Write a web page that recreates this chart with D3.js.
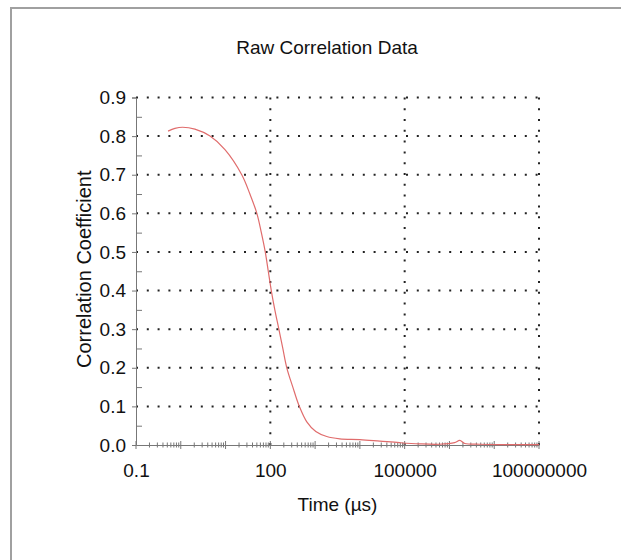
<!DOCTYPE html>
<html>
<head>
<meta charset="utf-8">
<script src="https://cdnjs.cloudflare.com/ajax/libs/d3/7.8.5/d3.min.js"></script>
<style>
  body { margin: 0; background: #fff; }
  text { font-family: Arial, "Liberation Sans", sans-serif; fill: #111; }
</style>
</head>
<body>
<script>
// correlation curve
const times = [0.52, 0.74, 1.1, 2.07, 4.5, 9.7, 23, 35, 50, 63, 77, 90, 105, 126, 155, 190, 233, 318, 444, 652,
  1035, 1820, 3550, 10000, 28000, 77000, 210000, 600000, 1300000, 1700000, 2200000, 4700000, 13000000, 100000000];
const corr = [0.813, 0.82, 0.823, 0.818, 0.80, 0.765, 0.70, 0.65, 0.60, 0.55, 0.50, 0.45, 0.40, 0.35, 0.30, 0.25, 0.20, 0.15, 0.10, 0.06,
  0.035, 0.022, 0.016, 0.014, 0.01, 0.006, 0.003, 0.002, 0.006, 0.012, 0.004, 0.002, 0.001, 0.001];

const yTicks = [0, 0.1, 0.2, 0.3, 0.4, 0.5, 0.6, 0.7, 0.8, 0.9];
const xLabels = [0.1, 100, 100000, 100000000];
const decades = [0.1, 1, 10, 100, 1000, 10000, 100000, 1000000, 10000000, 100000000];

let width = 621,
    height = 560;

let margin = {top: 97.5, bottom: 115, left: 136, right: 82};

let svg = d3.select('body')
            .append('svg')
            .attr('width', width)
            .attr('height', height);

// outer frame (top and left edges only visible)
svg.append('path')
   .attr('d', `M11,${height} V8 H${width}`)
   .attr('fill', 'none')
   .attr('stroke', '#a0a0a0')
   .attr('stroke-width', 2);

let xScale = d3.scaleLog()
               .domain([0.1, 1e8])
               .range([margin.left, width - margin.right]);

let yScale = d3.scaleLinear()
               .domain([0, 0.9])
               .range([height - margin.bottom, margin.top]);

let x0 = xScale.range()[0], x1 = xScale.range()[1];
let y0 = yScale.range()[0], y1 = yScale.range()[1];

// dotted grid
let grid = svg.append('g')
              .attr('stroke', '#222')
              .attr('stroke-width', 2)
              .attr('stroke-dasharray', '2 8.8');

grid.selectAll('.hgrid')
    .data(yTicks.slice(1))
    .enter()
    .append('line')
    .attr('x1', x0).attr('x2', x1)
    .attr('y1', d => yScale(d)).attr('y2', d => yScale(d));

grid.selectAll('.vgrid')
    .data(xLabels.slice(1))
    .enter()
    .append('line')
    .attr('x1', d => xScale(d)).attr('x2', d => xScale(d))
    .attr('y1', y0).attr('y2', y1);

// y axis
let yAxis = svg.append('g')
               .attr('transform', `translate(${x0}, 0)`)
               .call(d3.axisLeft(yScale).tickValues(yTicks).tickFormat(d3.format('.1f'))
                       .tickSize(4).tickPadding(6));

let yMinor = svg.append('g')
                .attr('transform', `translate(${x0}, 0)`)
                .call(d3.axisLeft(yScale).tickValues(yTicks.slice(1).map(d => d - 0.05))
                        .tickSize(-6).tickFormat(''));
yMinor.select('.domain').remove();

// x axis
let xAxis = svg.append('g')
               .attr('transform', `translate(0, ${y0})`)
               .call(d3.axisBottom(xScale).tickValues(xLabels)
                       .tickFormat(d => d < 1 ? '0.1' : d3.format('d')(d))
                       .tickSize(0).tickPadding(19));

let minors = [];
decades.slice(0, -1).forEach(d => {
  for (let k = 2; k <= 9; k++) minors.push(d * k);
});

let xt = svg.append('g').attr('stroke', '#777').attr('stroke-width', 1);
xt.selectAll('.minor')
  .data(minors)
  .enter()
  .append('line')
  .attr('x1', d => xScale(d)).attr('x2', d => xScale(d))
  .attr('y1', y0 - 2.5).attr('y2', y0 + 2.5);
xt.selectAll('.major')
  .data(decades)
  .enter()
  .append('line')
  .attr('x1', d => xScale(d)).attr('x2', d => xScale(d))
  .attr('y1', y0 - 4).attr('y2', y0 + 4);

svg.selectAll('.domain, .tick line').attr('stroke', '#777');
svg.selectAll('.tick text').style('font-size', '19px').style('font-family', 'Arial, "Liberation Sans", sans-serif').attr('fill', '#111');

// curve
let line = d3.line()
             .x((d, i) => xScale(times[i]))
             .y(d => yScale(d))
             .curve(d3.curveCatmullRom.alpha(0.5));

svg.append('path')
   .datum(corr)
   .attr('fill', 'none')
   .attr('stroke', '#e06c6c')
   .attr('stroke-width', 1.2)
   .attr('d', line);

// labels
svg.append('text')
   .attr('x', 327)
   .attr('y', 54)
   .text('Raw Correlation Data')
   .style('text-anchor', 'middle')
   .style('font-size', '19px');

svg.append('text')
   .attr('x', (x0 + x1) / 2)
   .attr('y', 511)
   .text('Time (µs)')
   .style('text-anchor', 'middle')
   .style('font-size', '19px');

svg.append('text')
   .attr('x', -(y0 + y1) / 2 + 2)
   .attr('y', 91)
   .text('Correlation Coefficient')
   .style('text-anchor', 'middle')
   .style('font-size', '20px')
   .attr('transform', 'rotate(-90)');
</script>
</body>
</html>
